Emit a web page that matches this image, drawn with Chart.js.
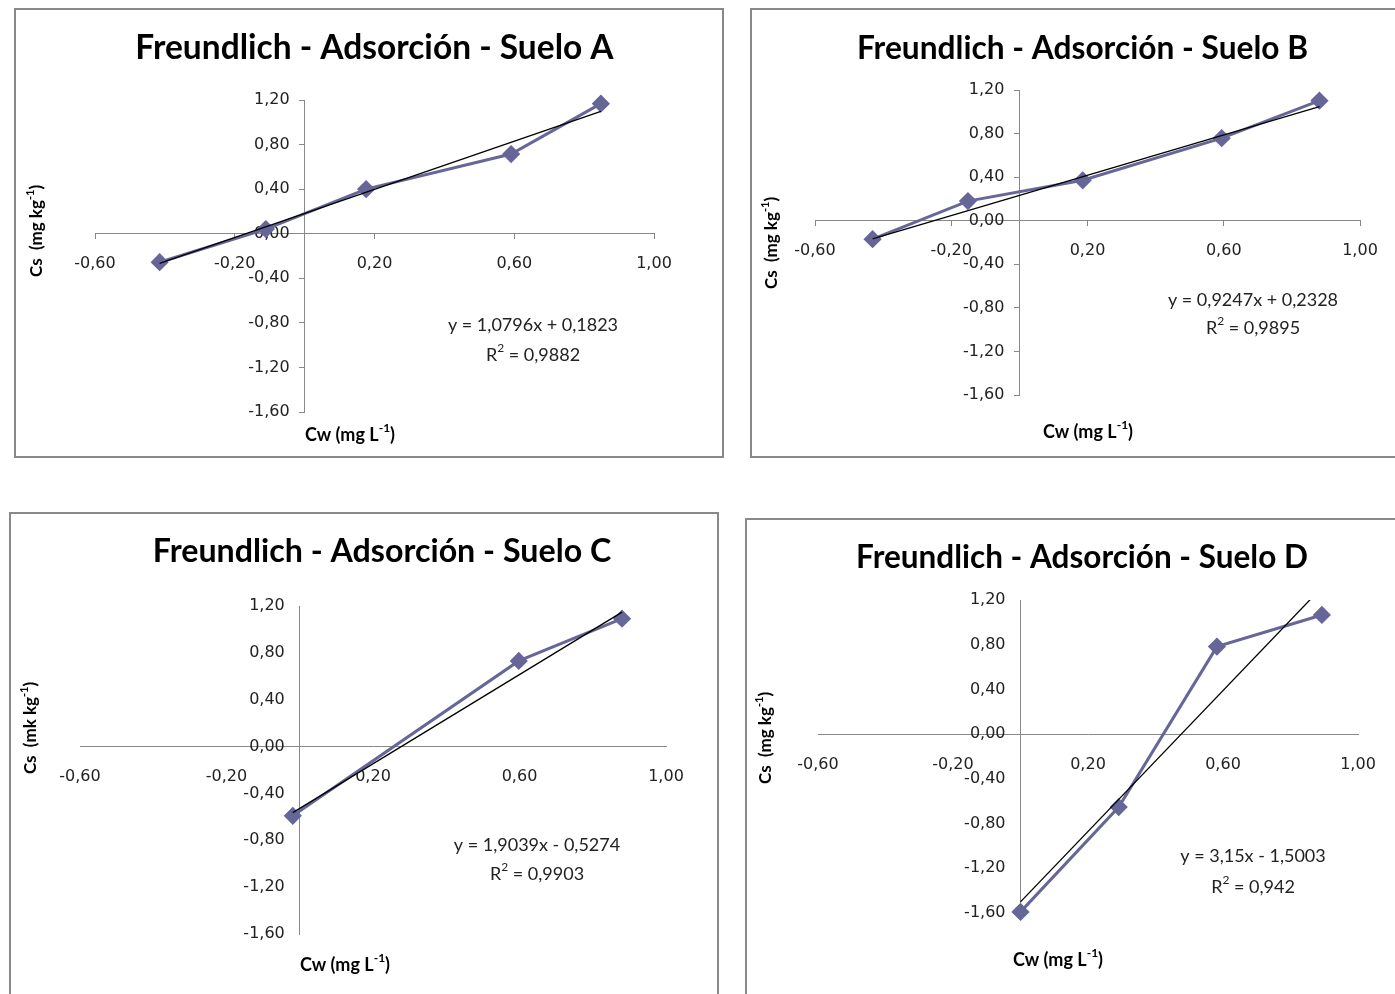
<!DOCTYPE html>
<html lang="es">
<head>
<meta charset="UTF-8">
<title>Freundlich - Adsorción</title>
<script src="https://cdn.jsdelivr.net/npm/chart.js"></script>
<style>
  html, body { margin: 0; padding: 0; background: #fff; overflow: hidden; }
  .panel { position: absolute; box-sizing: border-box; border: 2px solid #888; pointer-events: none; }
  canvas { position: absolute; }
</style>
</head>
<body>
<div id="page"></div>
<script>
// datos (log Cw, log Cs)
const titles = [
  'Freundlich - Adsorción - Suelo A',
  'Freundlich - Adsorción - Suelo B',
  'Freundlich - Adsorción - Suelo C',
  'Freundlich - Adsorción - Suelo D'
];
const cwA = [-0.415, -0.111, 0.176, 0.591, 0.848];
const csA = [-0.256, 0.042, 0.400, 0.715, 1.167];
const cwB = [-0.431, -0.151, 0.186, 0.594, 0.881];
const csB = [-0.170, 0.180, 0.371, 0.758, 1.102];
const cwC = [-0.019, 0.598, 0.880];
const csC = [-0.591, 0.731, 1.092];
const cwD = [0.000, 0.291, 0.582, 0.893];
const csD = [-1.590, -0.652, 0.783, 1.066];

const slopes = [1.0796, 0.9247, 1.9039, 3.15];
const intercepts = [0.1823, 0.2328, -0.5274, -1.5003];
const equations = ['y = 1,0796x + 0,1823', 'y = 0,9247x + 0,2328', 'y = 1,9039x - 0,5274', 'y = 3,15x - 1,5003'];
const r2Labels = ['0,9882', '0,9895', '0,9903', '0,942'];
const yUnits = ['mg kg', 'mg kg', 'mk kg', 'mg kg'];

const xMin = -0.6, xMax = 1.0, xStep = 0.4;
const yMin = -1.6, yMax = 1.2, yStep = 0.4;

// geometria de cada panel (px de pagina / canvas)
const panels = [
  { box: [14, 8, 710, 450], canvas: [16, 10, 706, 446], pad: { left: 79, right: 68, bottom: 44 }, chartTop: 90, titleY: 38,
    titleSize: 33.5, titleShift: 0, ticks: true,
    yTitle: [21, 221], xTitle: [334, 425], eq: [517, 315], r2: [517, 345] },
  { box: [750, 8, 660, 450], canvas: [752, 10, 643, 446], pad: { left: 63, right: 35, bottom: 61 }, chartTop: 80, titleY: 39,
    titleSize: 31.7, titleShift: -5, ticks: true,
    yTitle: [20, 233], xTitle: [336, 422], eq: [501, 290], r2: [501, 318] },
  { box: [9, 512, 710, 500], canvas: [11, 514, 706, 480], pad: { left: 69, right: 51, bottom: 60 }, chartTop: 92, titleY: 38,
    titleSize: 32.2, titleShift: 9, ticks: false,
    yTitle: [20, 214], xTitle: [334, 451], eq: [526, 331], r2: [526, 360] },
  { box: [745, 518, 660, 490], canvas: [747, 520, 648, 474], pad: { left: 71, right: 37, bottom: 81 }, chartTop: 80, titleY: 38,
    titleSize: 31.5, titleShift: -6, ticks: false,
    yTitle: [19, 218], xTitle: [311, 440], eq: [506, 336], r2: [506, 367] }
];

const seriesColor = '#666699';
const axisColor = '#888888';
const yLabelGap = 15;

Chart.defaults.font.family = 'DejaVu Sans';

const fmt = v => (Math.abs(v) < 1e-9 ? 0 : v).toFixed(2).replace('.', ',');

// texto con superindice, centrado en (x, y)
function drawRich(ctx, parts, x, y, f) {
  const base = f.weight + ' ' + f.size + 'px ' + f.family;
  const sup = f.weight + ' ' + Math.round(f.size * 0.65) + 'px ' + f.family;
  let total = 0;
  parts.forEach(p => {
    ctx.font = p.sup ? sup : base;
    p.w = ctx.measureText(p.t).width;
    total += p.w;
  });
  let cx = x - total / 2;
  ctx.textAlign = 'left';
  ctx.textBaseline = 'middle';
  parts.forEach(p => {
    ctx.font = p.sup ? sup : base;
    ctx.fillText(p.t, cx, p.sup ? y - f.size * 0.4 : y);
    cx += p.w;
  });
}

// las etiquetas del eje y centrado quedan pegadas al eje: separarlas un poco
const shiftYLabels = {
  id: 'shiftYLabels',
  beforeDraw(chart) {
    const items = chart.scales.y.getLabelItems();
    if (items._shifted) return;
    items.forEach(it => { it.options.translation[0] -= yLabelGap; });
    items._shifted = true;
  }
};

// el titulo de Excel no queda centrado exactamente sobre el area del grafico
const titleShift = {
  id: 'titleShift',
  afterLayout(chart, args, o) {
    const t = chart.titleBlock;
    if (t && o.dx) { t.left += o.dx; t.right += o.dx; }
  }
};

const panelText = {
  id: 'panelText',
  afterDraw(chart, args, o) {
    const ctx = chart.ctx;
    ctx.save();
    ctx.fillStyle = '#000';
    // titulo eje y
    ctx.save();
    ctx.translate(o.yTitle[0], o.yTitle[1]);
    ctx.rotate(-Math.PI / 2);
    drawRich(ctx, [{ t: 'Cs  (' + o.yUnit }, { t: '-1', sup: true }, { t: ')' }], 0, 0,
      { size: 17, family: 'Lato', weight: 'bold' });
    ctx.restore();
    // titulo eje x
    drawRich(ctx, [{ t: 'Cw (mg L' }, { t: '-1', sup: true }, { t: ')' }], o.xTitle[0], o.xTitle[1],
      { size: 18, family: 'Lato', weight: 'bold' });
    // ecuacion de la tendencia
    ctx.fillStyle = '#222';
    drawRich(ctx, [{ t: o.eqText }], o.eq[0], o.eq[1], { size: 18, family: 'Lato', weight: 'normal' });
    drawRich(ctx, [{ t: 'R' }, { t: '2', sup: true }, { t: ' = ' + o.r2Text }], o.r2[0], o.r2[1],
      { size: 18, family: 'Lato', weight: 'normal' });
    ctx.restore();
  }
};

const page = document.getElementById('page');

panels.forEach((p, i) => {
  const cv = document.createElement('canvas');
  cv.id = 'chart' + i;
  cv.width = p.canvas[2];
  cv.height = p.canvas[3];
  cv.style.left = p.canvas[0] + 'px';
  cv.style.top = p.canvas[1] + 'px';
  cv.style.width = p.canvas[2] + 'px';
  cv.style.height = p.canvas[3] + 'px';
  page.appendChild(cv);

  const box = document.createElement('div');
  box.className = 'panel';
  box.style.left = p.box[0] + 'px';
  box.style.top = p.box[1] + 'px';
  box.style.width = p.box[2] + 'px';
  box.style.height = p.box[3] + 'px';
  page.appendChild(box);

  const cw = [cwA, cwB, cwC, cwD][i];
  const cs = [csA, csB, csC, csD][i];
  const lo = Math.min(...cw), hi = Math.max(...cw);
  const lineH = p.titleSize * 1.2;
  const padTop = p.titleY - lineH / 2;

  new Chart(cv, {
    type: 'scatter',
    data: {
      datasets: [
        {
          data: cw.map((x, k) => ({ x: x, y: cs[k] })),
          showLine: true,
          borderColor: seriesColor,
          backgroundColor: seriesColor,
          borderWidth: 3,
          pointStyle: 'rectRot',
          pointRadius: 7,
          pointHoverRadius: 7,
          clip: false,
          order: 1
        },
        {
          data: [
            { x: lo, y: slopes[i] * lo + intercepts[i] },
            { x: hi, y: slopes[i] * hi + intercepts[i] }
          ],
          showLine: true,
          borderColor: '#000',
          borderWidth: 1.3,
          pointRadius: 0,
          order: 0
        }
      ]
    },
    options: {
      responsive: false,
      animation: false,
      events: [],
      layout: { padding: { left: p.pad.left, right: p.pad.right, top: 0, bottom: p.pad.bottom } },
      scales: {
        x: {
          type: 'linear',
          min: xMin, max: xMax,
          position: { y: 0 },
          ticks: { stepSize: xStep, callback: fmt, color: '#222', font: { size: 16 }, padding: 16 },
          grid: { display: p.ticks, drawOnChartArea: false, tickLength: 5, color: axisColor },
          border: { display: true, color: axisColor, width: 1 }
        },
        y: {
          type: 'linear',
          min: yMin, max: yMax,
          position: { x: 0 },
          ticks: { stepSize: yStep, callback: fmt, color: '#222', font: { size: 16 } },
          grid: { display: p.ticks, drawOnChartArea: false, tickLength: 5, color: axisColor },
          border: { display: true, color: axisColor, width: 1 }
        }
      },
      plugins: {
        legend: { display: false },
        tooltip: { enabled: false },
        title: {
          display: true,
          text: titles[i],
          color: '#000',
          font: { family: 'Lato', size: p.titleSize, weight: 'bold' },
          padding: { top: padTop, bottom: p.chartTop - padTop - lineH }
        },
        titleShift: { dx: p.titleShift },
        panelText: {
          yTitle: p.yTitle, xTitle: p.xTitle, eq: p.eq, r2: p.r2,
          yUnit: yUnits[i], eqText: equations[i], r2Text: r2Labels[i]
        }
      }
    },
    plugins: [titleShift, shiftYLabels, panelText]
  });
});
</script>
</body>
</html>
